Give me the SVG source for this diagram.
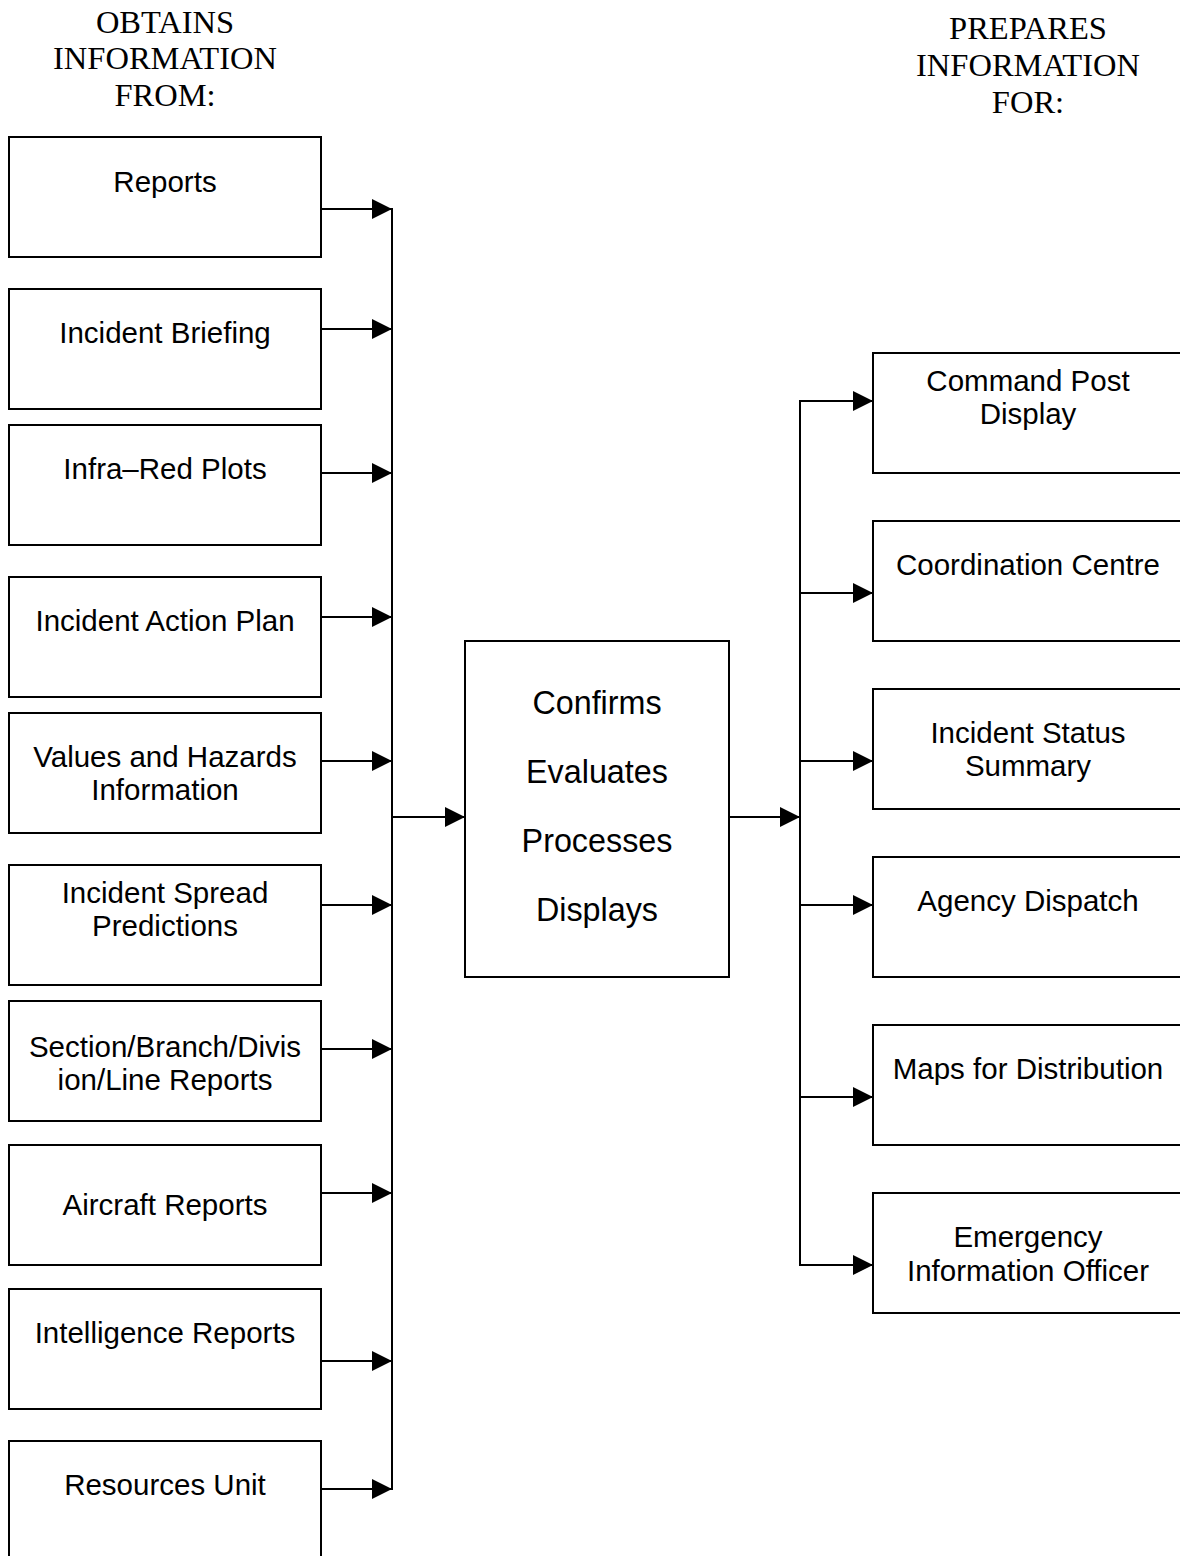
<svg xmlns="http://www.w3.org/2000/svg" width="1180" height="1556" viewBox="0 0 1180 1556">
<style>
.box{fill:#fff;stroke:#000;stroke-width:2}
.t{font-family:"Liberation Sans",Arial,sans-serif;font-size:29.5px;text-anchor:middle;fill:#000}
.c{font-family:"Liberation Sans",Arial,sans-serif;font-size:32.3px;text-anchor:middle;fill:#000}
.h{font-family:"Liberation Serif","Times New Roman",serif;font-size:32.5px;text-anchor:middle;fill:#000}
.ln{stroke:#000;stroke-width:2;fill:none}
.ar{stroke:#000;stroke-width:2;fill:none;marker-end:url(#ah)}
</style>
<defs>
<marker id="ah" markerUnits="userSpaceOnUse" markerWidth="20" markerHeight="20" refX="20" refY="10" orient="auto">
<path d="M0,0 L20,10 L0,20 z" fill="#000"/>
</marker>
</defs>
<rect width="1180" height="1556" fill="#fff"/>
<g id="header-left">
<text class="h" x="165" y="33">OBTAINS</text>
<text class="h" x="165" y="69">INFORMATION</text>
<text class="h" x="165" y="106">FROM:</text>
</g>
<g id="header-right">
<text class="h" x="1028" y="39">PREPARES</text>
<text class="h" x="1028" y="76">INFORMATION</text>
<text class="h" x="1028" y="113">FOR:</text>
</g>
<g id="n-reports"><rect class="box" x="9" y="137" width="312" height="120"/><text class="t" x="165" y="192">Reports</text></g>
<g id="n-briefing"><rect class="box" x="9" y="289" width="312" height="120"/><text class="t" x="165" y="343">Incident Briefing</text></g>
<g id="n-infrared"><rect class="box" x="9" y="425" width="312" height="120"/><text class="t" x="165" y="479">Infra–Red Plots</text></g>
<g id="n-iap"><rect class="box" x="9" y="577" width="312" height="120"/><text class="t" x="165" y="631">Incident Action Plan</text></g>
<g id="n-values"><rect class="box" x="9" y="713" width="312" height="120"/><text class="t" x="165" y="767">Values and Hazards</text><text class="t" x="165" y="800">Information</text></g>
<g id="n-spread"><rect class="box" x="9" y="865" width="312" height="120"/><text class="t" x="165" y="903">Incident Spread</text><text class="t" x="165" y="936">Predictions</text></g>
<g id="n-section"><rect class="box" x="9" y="1001" width="312" height="120"/><text class="t" x="165" y="1057">Section/Branch/Divis</text><text class="t" x="165" y="1090">ion/Line Reports</text></g>
<g id="n-aircraft"><rect class="box" x="9" y="1145" width="312" height="120"/><text class="t" x="165" y="1215">Aircraft Reports</text></g>
<g id="n-intel"><rect class="box" x="9" y="1289" width="312" height="120"/><text class="t" x="165" y="1343">Intelligence Reports</text></g>
<g id="n-resources"><rect class="box" x="9" y="1441" width="312" height="130"/><text class="t" x="165" y="1495">Resources Unit</text></g>
<g id="n-center"><rect class="box" x="465" y="641" width="264" height="336"/>
<text class="c" x="597" y="714">Confirms</text>
<text class="c" x="597" y="783">Evaluates</text>
<text class="c" x="597" y="852">Processes</text>
<text class="c" x="597" y="921">Displays</text></g>
<g id="n-cpd"><rect class="box" x="873" y="353" width="320" height="120"/><text class="t" x="1028" y="391">Command Post</text><text class="t" x="1028" y="424">Display</text></g>
<g id="n-coord"><rect class="box" x="873" y="521" width="320" height="120"/><text class="t" x="1028" y="575">Coordination Centre</text></g>
<g id="n-iss"><rect class="box" x="873" y="689" width="320" height="120"/><text class="t" x="1028" y="743">Incident Status</text><text class="t" x="1028" y="776">Summary</text></g>
<g id="n-agency"><rect class="box" x="873" y="857" width="320" height="120"/><text class="t" x="1028" y="911">Agency Dispatch</text></g>
<g id="n-maps"><rect class="box" x="873" y="1025" width="320" height="120"/><text class="t" x="1028" y="1079">Maps for Distribution</text></g>
<g id="n-eio"><rect class="box" x="873" y="1193" width="320" height="120"/><text class="t" x="1028" y="1247">Emergency</text><text class="t" x="1028" y="1281">Information Officer</text></g>
<g id="connectors">
<path class="ar" d="M321,209 H392"/>
<path class="ar" d="M321,329 H392"/>
<path class="ar" d="M321,473 H392"/>
<path class="ar" d="M321,617 H392"/>
<path class="ar" d="M321,761 H392"/>
<path class="ar" d="M321,905 H392"/>
<path class="ar" d="M321,1049 H392"/>
<path class="ar" d="M321,1193 H392"/>
<path class="ar" d="M321,1361 H392"/>
<path class="ar" d="M321,1489 H392"/>
<path class="ln" d="M392,208 V1490"/>
<path class="ar" d="M392,817 H465"/>
<path class="ar" d="M729,817 H800"/>
<path class="ln" d="M800,400 V1266"/>
<path class="ar" d="M800,401 H873"/>
<path class="ar" d="M800,593 H873"/>
<path class="ar" d="M800,761 H873"/>
<path class="ar" d="M800,905 H873"/>
<path class="ar" d="M800,1097 H873"/>
<path class="ar" d="M800,1265 H873"/>
</g>
</svg>
